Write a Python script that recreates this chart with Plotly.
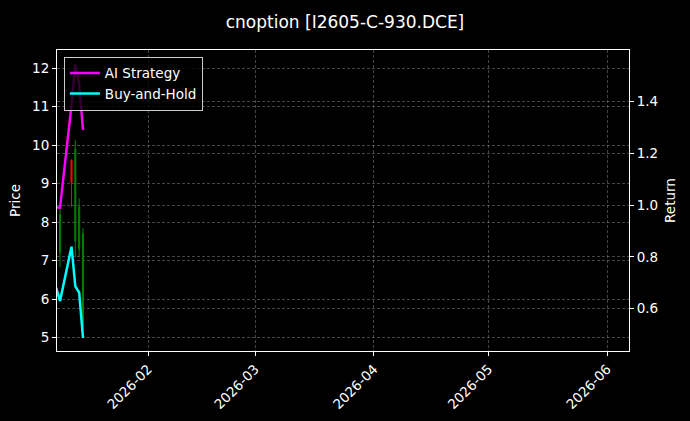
import plotly.graph_objects as go

# candles (price, left axis)
candle_dates = ["2026-01-09", "2026-01-12", "2026-01-13", "2026-01-14", "2026-01-15"]
candle_open = [7.2, 9.61, 7.5, 7.3, 5.3]
candle_high = [8.37, 9.63, 10.13, 8.62, 7.85]
candle_low = [6.83, 8.40, 7.09, 7.09, 4.99]
candle_close = [8.2, 9.02, 9.9, 8.4, 7.7]

# returns (right axis)
return_dates = ["2026-01-08", "2026-01-09", "2026-01-12", "2026-01-13", "2026-01-14", "2026-01-15"]
ai_strategy = [0.99, 0.99, 1.386, 1.543, 1.47, 1.29]
buy_and_hold = [0.68, 0.629, 0.839, 0.686, 0.662, 0.487]

title = "cnoption [I2605-C-930.DCE]"

grid = "rgba(150,150,150,0.45)"
font = dict(family="DejaVu Sans", color="white", size=13.5)

fig = go.Figure()

fig.add_trace(go.Candlestick(
    x=candle_dates, open=candle_open, high=candle_high,
    low=candle_low, close=candle_close,
    increasing=dict(line=dict(color="green", width=1), fillcolor="green"),
    decreasing=dict(line=dict(color="red", width=1), fillcolor="red"),
    showlegend=False, yaxis="y",
))

fig.add_trace(go.Scatter(
    x=return_dates, y=ai_strategy, mode="lines", name="AI Strategy",
    line=dict(color="#ff00ff", width=2.5), yaxis="y2",
))
fig.add_trace(go.Scatter(
    x=return_dates, y=buy_and_hold, mode="lines", name="Buy-and-Hold",
    line=dict(color="#00ffff", width=2.5), yaxis="y2",
))

axis_common = dict(
    showgrid=True, gridcolor=grid, griddash="3px,2px", gridwidth=0.6,
    showline=True, linecolor="white", linewidth=1,
    ticks="outside", tickcolor="white", ticklen=4, zeroline=False,
    automargin=False,
)

fig.update_layout(
    width=690, height=421,
    margin=dict(l=57, r=61, t=50, b=70),
    paper_bgcolor="black", plot_bgcolor="black",
    font=font,
    boxgap=0.6,
    title=dict(text=title, x=0.5, xanchor="center", y=1 - 22 / 421,
               yref="container", yanchor="middle", font=dict(size=17)),
    legend=dict(x=0.012, y=0.978, xanchor="left", yanchor="top",
                bgcolor="rgba(0,0,0,0.8)", bordercolor="#cccccc", borderwidth=1,
                font=dict(size=13.5), tracegroupgap=0),
    xaxis=dict(
        type="date", range=["2026-01-08 05:00", "2026-06-06 17:00"],
        rangeslider=dict(visible=False),
        tick0="2026-02-01", dtick="M1", tickformat="%Y-%m", tickangle=-45,
        mirror=True, **axis_common,
    ),
    yaxis=dict(
        title=dict(text="Price", standoff=8, font=dict(size=13.5)),
        range=[4.648, 12.476], dtick=1, **axis_common,
    ),
    yaxis2=dict(
        title=dict(text="Return", standoff=8, font=dict(size=13.5)),
        range=[0.436, 1.599], tick0=0.6, dtick=0.2, tickformat=".1f",
        overlaying="y", side="right", **axis_common,
    ),
)

fig.write_html("out.html", config={"displayModeBar": False},
               post_script="document.body.style.margin='0';")
